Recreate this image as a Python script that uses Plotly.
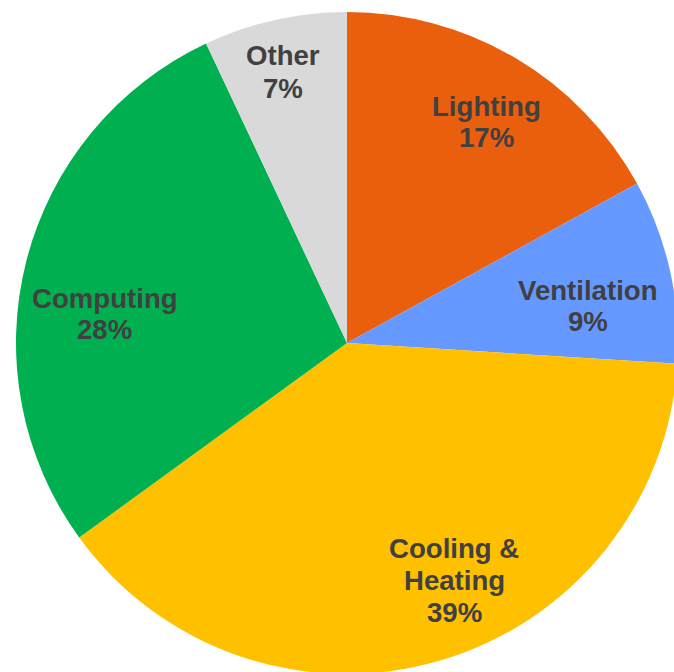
import plotly.graph_objects as go

# Energy use by end use, share of total (%)
categories = ["Lighting", "Ventilation", "Cooling & Heating", "Computing", "Other"]
shares = [17, 9, 39, 28, 7]
colors = ["#EA5F0E", "#6699FF", "#FFC000", "#00B050", "#D9D9D9"]

# Label block centres in pixels (x from left, y from top) and line pitch
label_pos = [(486, 122), (588, 306), (454, 580), (105, 314), (283, 72)]
LINE_PITCH = 32

W, H = 694, 674
PIE_TOP = 12          # pixel row of the top of the pie
PIE_DIAM = 662

fig = go.Figure(
    go.Pie(
        labels=categories,
        values=shares,
        sort=False,
        direction="clockwise",
        rotation=0,
        marker=dict(colors=colors, line=dict(width=0)),
        textinfo="none",
        hoverinfo="skip",
        showlegend=False,
        domain=dict(x=[0, 1], y=[(H - PIE_TOP - PIE_DIAM) / H, (H - PIE_TOP) / H]),
    )
)


def wrap(name):
    return name.replace("& ", "&\n").split("\n")


annotations = []
for name, val, (px, py) in zip(categories, shares, label_pos):
    lines = wrap(name) + [f"{val}%"]
    n = len(lines)
    for i, line in enumerate(lines):
        y_line = py + (i - (n - 1) / 2) * LINE_PITCH
        annotations.append(
            dict(
                x=px / W,
                y=1 - y_line / H,
                xref="paper",
                yref="paper",
                xanchor="center",
                yanchor="middle",
                text=line,
                showarrow=False,
                font=dict(family="Liberation Sans, Arial, sans-serif", size=27.6, color="#404040", weight="bold"),
            )
        )

fig.update_layout(
    width=W,
    height=H,
    margin=dict(l=0, r=0, t=0, b=0),
    paper_bgcolor="white",
    plot_bgcolor="white",
    annotations=annotations,
)

fig.write_html(
    "out.html",
    post_script="document.documentElement.style.overflow='hidden';document.body.style.overflow='hidden';",
)
